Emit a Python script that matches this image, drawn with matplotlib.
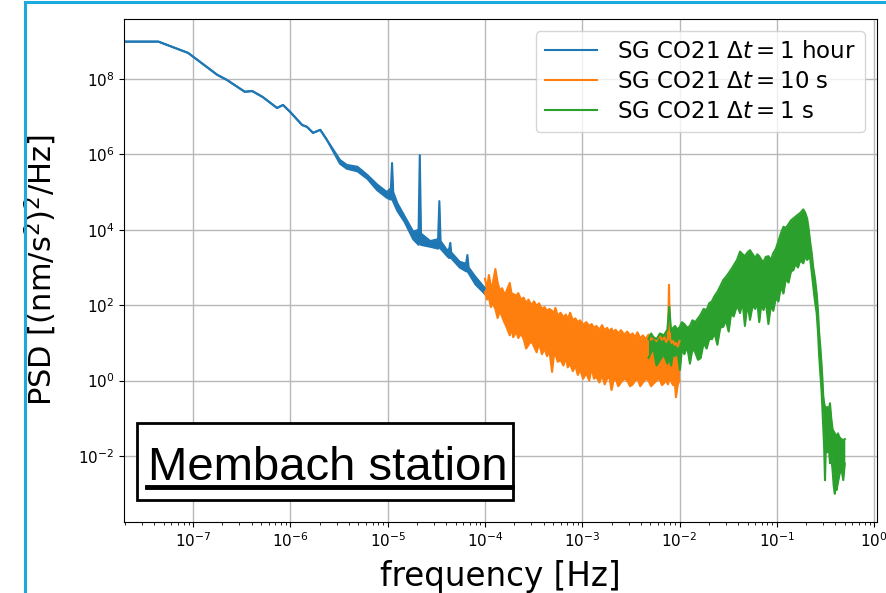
import numpy as np
import matplotlib
matplotlib.use("Agg")
import matplotlib.pyplot as plt
from matplotlib.patches import Rectangle
from matplotlib.lines import Line2D

# PSD values (log10 of PSD), upper / lower edge of each trace
blue_freq = [2e-8, 4.4e-8, 8.9e-8, 1.77e-7, 2.24e-7, 3.4e-7, 4.05e-7, 5.2e-7, 7.3e-7, 8.4e-7,
             1.0e-6, 1.32e-6, 1.48e-6, 1.71e-6, 2.03e-6, 2.38e-6, 3.24e-6, 3.8e-6, 4.9e-6, 6.2e-6,
             7.8e-6, 9.8e-6, 1.08e-5, 1.11e-5, 1.14e-5, 1.26e-5, 1.5e-5, 1.83e-5, 2.08e-5, 2.14e-5,
             2.2e-5, 2.74e-5, 3.3e-5, 3.4e-5, 3.5e-5, 4.1e-5, 4.3e-5, 4.4e-5, 4.5e-5, 5.5e-5,
             6.4e-5, 6.6e-5, 6.8e-5, 8.0e-5, 1.0e-4]
blue_hi = [8.99, 8.99, 8.69, 8.11, 7.97, 7.66, 7.68, 7.52, 7.23, 7.31,
           7.12, 6.78, 6.73, 6.57, 6.65, 6.38, 5.85, 5.72, 5.67, 5.45,
           5.20, 5.00, 5.10, 5.77, 5.00, 4.70, 4.35, 3.95, 4.00, 5.98,
           3.90, 3.70, 3.75, 4.76, 3.70, 3.45, 3.50, 3.65, 3.40, 3.15,
           3.10, 3.33, 3.00, 2.75, 2.45]
blue_lo = [8.99, 8.99, 8.69, 8.11, 7.97, 7.66, 7.68, 7.52, 7.23, 7.31,
           7.12, 6.78, 6.73, 6.57, 6.65, 6.38, 5.75, 5.62, 5.55, 5.35,
           5.05, 4.85, 4.80, 4.85, 4.75, 4.50, 4.20, 3.75, 3.60, 3.80,
           3.60, 3.55, 3.50, 3.55, 3.50, 3.30, 3.25, 3.30, 3.25, 3.00,
           2.90, 2.90, 2.85, 2.55, 2.30]

orange_freq = [1.00e-4, 1.05e-4, 1.10e-4, 1.15e-4, 1.20e-4, 1.28e-4, 1.35e-4, 1.42e-4, 1.50e-4, 1.58e-4,
               1.65e-4, 1.80e-4, 1.88e-4, 1.95e-4, 2.10e-4, 2.20e-4, 2.35e-4, 2.50e-4, 2.65e-4, 2.80e-4,
               3.00e-4, 3.20e-4, 3.40e-4, 3.60e-4, 3.85e-4, 4.10e-4, 4.35e-4, 4.60e-4, 4.90e-4, 5.10e-4,
               5.30e-4, 5.60e-4, 6.00e-4, 6.40e-4, 6.80e-4, 7.10e-4, 7.50e-4, 8.00e-4, 8.50e-4, 9.00e-4,
               9.50e-4, 1.02e-3, 1.10e-3, 1.18e-3, 1.25e-3, 1.32e-3, 1.40e-3, 1.50e-3, 1.60e-3, 1.70e-3,
               1.80e-3, 1.90e-3, 2.00e-3, 2.10e-3, 2.20e-3, 2.35e-3, 2.50e-3, 2.70e-3, 2.90e-3, 3.10e-3,
               3.30e-3, 3.50e-3, 3.70e-3, 3.95e-3, 4.20e-3, 4.50e-3, 4.80e-3, 5.10e-3, 5.40e-3, 5.80e-3,
               6.20e-3, 6.60e-3, 7.00e-3, 7.30e-3, 7.60e-3, 7.80e-3, 8.00e-3, 8.30e-3, 8.60e-3, 8.90e-3,
               9.20e-3, 9.60e-3, 1.00e-2]
orange_hi = [2.70, 2.45, 2.80, 2.50, 2.55, 2.96, 2.60, 2.40, 2.45, 2.30,
             2.35, 2.59, 2.30, 2.30, 2.25, 2.32, 2.15, 2.20, 2.05, 2.15,
             2.00, 2.10, 1.98, 2.05, 1.90, 1.95, 1.85, 1.90, 1.85, 1.75,
             1.93, 1.72, 1.80, 1.68, 1.75, 1.62, 1.80, 1.60, 1.65, 1.55,
             1.60, 1.48, 1.55, 1.45, 1.50, 1.40, 1.45, 1.35, 1.47, 1.33,
             1.40, 1.30, 1.38, 1.28, 1.35, 1.25, 1.34, 1.22, 1.30, 1.20,
             1.25, 1.15, 1.28, 1.12, 1.20, 1.10, 1.22, 1.08, 1.15, 1.05,
             1.20, 1.08, 1.15, 1.02, 1.10, 2.54, 1.10, 1.00, 1.05, 0.95,
             1.00, 0.90, 1.05]
orange_lo = [2.35, 2.15, 2.20, 1.95, 2.05, 1.90, 1.66, 1.85, 1.70, 1.55,
             1.45, 1.20, 1.40, 1.15, 1.30, 1.13, 1.25, 1.10, 0.85, 0.95,
             1.05, 0.90, 0.75, 1.00, 0.70, 0.85, 0.65, 0.80, 0.23, 0.65,
             0.70, 0.50, 0.55, 0.40, 0.60, 0.35, 0.45, 0.25, 0.40, 0.15,
             0.30, 0.05, 0.20, 0.00, 0.35, 0.05, 0.10, -0.05, 0.15, -0.10,
             0.05, 0.10, -0.25, 0.00, 0.05, -0.15, -0.05, 0.05, 0.00, -0.15,
             -0.10, 0.00, 0.05, -0.15, -0.05, 0.05, 0.00, -0.15, -0.08, 0.00,
             0.05, -0.12, -0.05, 0.00, -0.10, 0.00, 0.10, -0.05, -0.12, 0.00,
             -0.44, -0.10, 0.00]

green_freq = [4.8e-3, 5.1e-3, 5.4e-3, 5.8e-3, 6.3e-3, 6.9e-3, 7.5e-3, 7.85e-3, 8.2e-3, 8.6e-3,
              9.0e-3, 9.5e-3, 1.01e-2, 1.06e-2, 1.12e-2, 1.2e-2, 1.28e-2, 1.36e-2, 1.45e-2, 1.55e-2,
              1.65e-2, 1.77e-2, 1.9e-2, 2.02e-2, 2.15e-2, 2.3e-2, 2.45e-2, 2.62e-2, 2.82e-2, 3.0e-2,
              3.2e-2, 3.4e-2, 3.6e-2, 3.9e-2, 4.19e-2, 4.45e-2, 4.7e-2, 5.0e-2, 5.3e-2, 5.65e-2,
              6.0e-2, 6.3e-2, 6.6e-2, 6.95e-2, 7.3e-2, 7.7e-2, 8.2e-2, 8.7e-2, 9.2e-2, 9.8e-2,
              0.104, 0.110, 0.117, 0.124, 0.132, 0.140, 0.148, 0.156, 0.165, 0.175,
              0.187, 0.196, 0.205, 0.212, 0.219, 0.228, 0.237, 0.247, 0.257, 0.265,
              0.272, 0.280, 0.289, 0.295, 0.300, 0.307, 0.313, 0.320, 0.330, 0.341,
              0.352, 0.363, 0.375, 0.385, 0.395, 0.403, 0.412, 0.425, 0.440, 0.460,
              0.482, 0.500]
green_hi = [1.10, 1.25, 1.15, 1.10, 1.25, 1.20, 1.35, 1.96, 1.30, 1.40,
            1.45, 1.35, 1.43, 1.55, 1.50, 1.40, 1.45, 1.60, 1.55, 1.65,
            1.75, 1.90, 1.87, 2.05, 2.10, 2.25, 2.35, 2.50, 2.67, 2.75,
            2.85, 2.95, 3.05, 3.20, 3.42, 3.35, 3.30, 3.40, 3.46, 3.35,
            3.25, 3.35, 3.30, 3.20, 3.15, 3.28, 3.30, 3.20, 3.38, 3.50,
            3.70, 3.90, 4.08, 4.05, 4.15, 4.25, 4.30, 4.35, 4.40, 4.45,
            4.54, 4.45, 4.30, 4.05, 3.73, 3.40, 3.00, 2.70, 2.31, 1.85,
            1.30, 0.90, 0.40, 0.00, -0.40, -0.60, -0.69, -0.75, -0.70, -0.80,
            -0.60, -1.00, -1.30, -1.35, -1.40, -1.45, -1.49, -1.40, -1.50, -1.55,
            -1.58, -1.55]
green_lo = [0.60, 0.75, 0.85, 0.40, 0.55, 0.70, 0.45, 0.60, 0.40, 0.75,
            0.65, 0.80, 0.28, 0.85, 0.70, 0.90, 0.45, 0.85, 0.75, 0.55,
            0.60, 1.00, 0.85, 1.10, 1.10, 1.25, 0.95, 1.40, 1.43, 1.60,
            1.30, 1.80, 1.70, 2.00, 1.79, 2.10, 1.45, 2.05, 1.61, 2.00,
            1.90, 2.10, 1.55, 2.05, 1.87, 2.10, 1.50, 2.00, 1.85, 2.20,
            2.10, 2.50, 2.31, 2.70, 2.60, 2.90, 2.93, 3.10, 3.00, 3.20,
            3.11, 3.30, 3.20, 3.25, 3.29, 2.90, 2.50, 2.10, 1.79, 1.30,
            0.70, 0.20, -0.30, -0.80, -1.20, -1.80, -2.64, -1.60, -1.90, -1.70,
            -2.19, -2.00, -2.40, -2.80, -3.00, -2.60, -2.90, -2.70, -2.50, -2.30,
            -2.64, -2.20]

labels = ["SG CO21 $\\Delta t = 1$ hour", "SG CO21 $\\Delta t = 10$ s", "SG CO21 $\\Delta t = 1$ s"]
colors = ["tab:blue", "tab:orange", "tab:green"]
station = "Membach station"
xticks = [1e-7, 1e-6, 1e-5, 1e-4, 1e-3, 1e-2, 1e-1, 1e0]
yticks = [1e-2, 1e0, 1e2, 1e4, 1e6, 1e8]


def draw_trace(ax, freq, hi, lo, color, label):
    f = np.array(freq)
    top = 10.0 ** np.array(hi)
    bot = 10.0 ** np.array(lo)
    ax.fill_between(f, bot, top, color=color, lw=0)
    ax.plot(f, top, color=color, lw=1.5, label=label)
    ax.plot(f, bot, color=color, lw=1.5)


fig = plt.figure(figsize=(8.86, 5.93), dpi=100)
ax = fig.add_axes([124 / 886, 71 / 593, 753 / 886, 503 / 593])

draw_trace(ax, blue_freq, blue_hi, blue_lo, colors[0], labels[0])
draw_trace(ax, orange_freq, orange_hi, orange_lo, colors[1], labels[1])
draw_trace(ax, green_freq, green_hi, green_lo, colors[2], labels[2])

ax.set_xscale("log")
ax.set_yscale("log")
ax.set_xlim(10 ** -7.71, 10 ** 0.03)
ax.set_ylim(10 ** -3.75, 10 ** 9.59)
ax.set_xticks(xticks)
ax.set_yticks(yticks)
ax.xaxis.set_minor_locator(matplotlib.ticker.LogLocator(base=10, subs=np.arange(2, 10) * 0.1, numticks=20))
ax.yaxis.set_minor_locator(matplotlib.ticker.NullLocator())
ax.tick_params(labelsize=11)
ax.grid(True, which="major", color="#b8b8b8", lw=1)
ax.set_axisbelow(True)

ax.set_xlabel("frequency [Hz]", fontsize=23.5, labelpad=7)
ax.set_ylabel("PSD [(nm/s$^2$)$^2$/Hz]", fontsize=22, labelpad=13.5)

ax.legend(loc="upper right", fontsize=16.5, handlelength=2.3, handletextpad=0.85,
          labelspacing=0.3, bbox_to_anchor=(0.984, 0.976), borderaxespad=0)

# boxed, underlined station name
ax.add_patch(Rectangle((0.017, 0.044), 0.5, 0.153, transform=ax.transAxes,
                       facecolor="white", edgecolor="black", lw=2, zorder=5))
ax.text(0.032, 0.0835, station, transform=ax.transAxes, fontsize=34,
        family="Liberation Sans", ha="left", va="baseline", zorder=6)
ax.add_line(Line2D([0.031, 0.515], [0.070, 0.070], transform=ax.transAxes,
                   color="black", lw=3.5, zorder=6))

# light blue frame around the figure
fig.patches.append(Rectangle((25 / 886, -0.2), 2.0, 1.2 - 2 / 593, transform=fig.transFigure,
                             fill=False, edgecolor="#1ca9dc", lw=2.2))

plt.savefig("out.png", dpi=100)
